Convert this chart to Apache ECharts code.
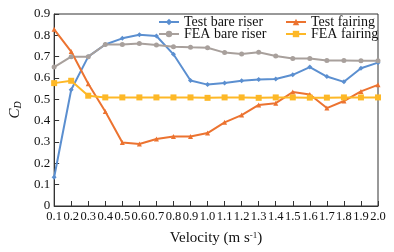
<!DOCTYPE html>
<html>
<head>
<meta charset="utf-8">
<script src="https://cdn.jsdelivr.net/npm/echarts@6/dist/echarts.min.js"></script>
<style>
  html, body { margin: 0; padding: 0; background: #fff; }
  #chart { width: 394px; height: 252px; }
</style>
</head>
<body>
<div id="chart"></div>
<script>
// velocity categories (m/s)
var velocity = ['0.1','0.2','0.3','0.4','0.5','0.6','0.7','0.8','0.9','1.0',
                '1.1','1.2','1.3','1.4','1.5','1.6','1.7','1.8','1.9','2.0'];

// drag coefficient
var testBare = [0.135, 0.545, 0.70, 0.757, 0.786, 0.803, 0.797, 0.711, 0.588, 0.569,
                0.577, 0.587, 0.593, 0.595, 0.615, 0.651, 0.607, 0.582, 0.646, 0.672];
var feaBare = [0.651, 0.70, 0.70, 0.757, 0.757, 0.762, 0.755, 0.747, 0.744, 0.742,
               0.719, 0.713, 0.721, 0.703, 0.691, 0.691, 0.682, 0.682, 0.681, 0.681];
var testFairing = [0.828, 0.724, 0.573, 0.443, 0.298, 0.291, 0.314, 0.326, 0.326, 0.342,
                   0.392, 0.426, 0.474, 0.482, 0.534, 0.523, 0.459, 0.492, 0.537, 0.568];
var feaFairing = [0.576, 0.587, 0.517, 0.509, 0.509, 0.509, 0.509, 0.509, 0.509, 0.507,
                  0.509, 0.509, 0.507, 0.509, 0.509, 0.508, 0.508, 0.509, 0.509, 0.509];

var font = 'Liberation Serif';

var chart = echarts.init(document.getElementById('chart'));

function line(name, data, color, symbol, size) {
  return {
    name: name,
    type: 'line',
    data: data,
    symbol: symbol,
    symbolSize: size,
    showAllSymbol: true,
    itemStyle: { color: color },
    lineStyle: { color: color, width: 2 },
    animation: false
  };
}

var legendText = { fontFamily: font, fontSize: 14, color: '#111', lineHeight: 12 };

var option = {
  textStyle: { fontFamily: font },
  grid: { left: 45, right: 16, top: 14, bottom: 46, show: true, borderColor: '#333', borderWidth: 1 },
  legend: [{
    data: ['Test bare riser', 'FEA bare riser'],
    orient: 'vertical', left: 158, top: 15,
    itemWidth: 20, itemHeight: 8, itemGap: -2,
    padding: 0,
    textStyle: legendText
  }, {
    data: ['Test fairing', 'FEA fairing'],
    orient: 'vertical', left: 285, top: 15,
    itemWidth: 20, itemHeight: 8, itemGap: -2,
    padding: 0,
    textStyle: legendText
  }],
  xAxis: {
    type: 'category',
    data: velocity,
    boundaryGap: false,
    name: '{a|Velocity (m s}{b|-1}{a|)}',
    nameLocation: 'middle',
    nameGap: 25,
    nameTextStyle: {
      rich: {
        a: { fontFamily: font, fontSize: 15, color: '#111' },
        b: { fontFamily: font, fontSize: 9, color: '#111', verticalAlign: 'top', padding: [0, 0, 6, 0] }
      }
    },
    axisLine: { lineStyle: { color: '#333', width: 1 } },
    axisTick: { inside: true, length: 5, lineStyle: { color: '#333' } },
    axisLabel: { fontFamily: font, fontSize: 12.5, color: '#111', margin: 4, interval: 0 },
    splitLine: { show: false }
  },
  yAxis: {
    type: 'value',
    min: 0, max: 0.9, interval: 0.1,
    name: '{c|C}{d|D}',
    nameLocation: 'middle',
    nameGap: 30,
    nameRotate: 90,
    nameTextStyle: {
      rich: {
        c: { fontFamily: font, fontSize: 15, fontStyle: 'italic', color: '#111' },
        d: { fontFamily: font, fontSize: 10, fontStyle: 'italic', color: '#111', verticalAlign: 'bottom', padding: [4, 0, 0, 0] }
      }
    },
    axisLine: { show: true, lineStyle: { color: '#333', width: 1 } },
    axisTick: { show: true, inside: true, length: 5, lineStyle: { color: '#333' } },
    axisLabel: {
      fontFamily: font, fontSize: 13, color: '#111', margin: 4,
      formatter: function (v) { return v === 0 ? '0' : v.toFixed(1); }
    },
    splitLine: { show: false }
  },
  series: [
    line('Test bare riser', testBare, '#5b8fd0', 'diamond', 5),
    line('FEA bare riser', feaBare, '#a8a09c', 'circle', 5),
    line('Test fairing', testFairing, '#ec7330', 'triangle', 5),
    line('FEA fairing', feaFairing, '#fdb827', 'rect', 6)
  ]
};

chart.setOption(option);
</script>
</body>
</html>
